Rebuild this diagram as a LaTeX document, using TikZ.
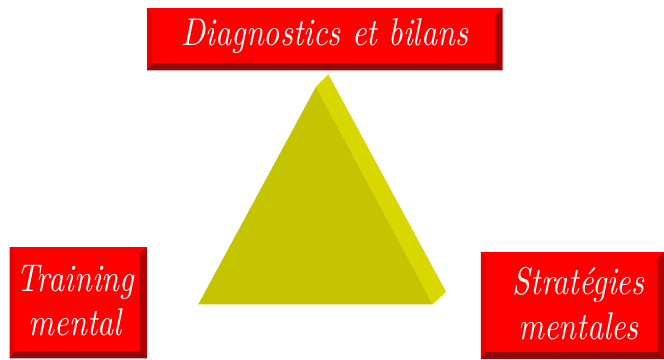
\documentclass[tikz,border=0pt]{standalone}
\usepackage{fontspec}
\usepackage{tikz}
\usetikzlibrary{calc}

\newfontfamily\etroit{lmroman10-italic.otf}[FakeStretch=0.82]

\definecolor{rouge}{HTML}{FF0000}
\definecolor{rougegauche}{HTML}{E40000}
\definecolor{rougedroite}{HTML}{B00000}
\definecolor{rougebas}{HTML}{8E0A0A}
\definecolor{jaune}{HTML}{C4C400}
\definecolor{jauneclair}{HTML}{D8D800}

\tikzset{
    bouton/.style={fill=rouge, inner sep=0pt, text=white, align=center,
        font=\etroit\fontsize{33}{38}\selectfont},
}

% biseaux d'un bouton : gauche, droite, bas
\newcommand{\biseau}[1]{%
    \fill[rougegauche] (#1.south west) -- (#1.north west) -- ($(#1.north west)+(5,5)$) -- ($(#1.south west)+(5,-5)$) -- cycle;
    \fill[rougedroite] (#1.south east) -- (#1.north east) -- ($(#1.north east)+(-7,7)$) -- ($(#1.south east)+(-7,-7)$) -- cycle;
    \fill[rougebas] (#1.south west) -- (#1.south east) -- ($(#1.south east)+(-7,-7)$) -- ($(#1.south west)+(5,-7)$) -- cycle;
}

\begin{document}
\begin{tikzpicture}[x=0.03cm, y=-0.03cm]
    \useasboundingbox (0,0) rectangle (664,359);

    % triangle
    \fill[jauneclair] (316,86.7) -- (328.3,74.3) -- (446,291.7) -- (432.7,304.3) -- cycle;
    \fill[jaune] (316,86.7) -- (198.3,304.3) -- (432.7,304.3) -- cycle;

    % boutons
    \node[bouton, minimum width=10.65cm, minimum height=1.85cm] (diag) at (324.8,39.2) {};
    \node[bouton, minimum width=4.1cm, minimum height=3.32cm] (train) at (78.3,302.7) {};
    \node[bouton, minimum width=5.49cm, minimum height=3.2cm] (strat) at (572.5,305.6) {};
    \biseau{diag}
    \biseau{train}
    \biseau{strat}

    % textes
    \node[bouton, fill=none] at ($(diag)+(0,-3)$) {Diagnostics et bilans};
    \node[bouton, fill=none] at ($(train)+(-3,-2)$) {Training\\mental};
    \node[bouton, fill=none] at ($(strat)+(6,-2)$) {Stratégies\\mentales};
\end{tikzpicture}
\end{document}
